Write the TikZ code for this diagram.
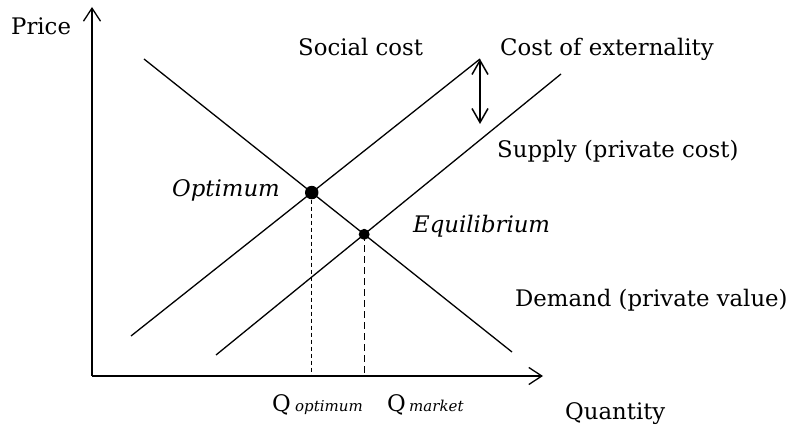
\documentclass[tikz,border=0pt]{standalone}
\usepackage{fontspec}
\setmainfont{DejaVu Serif}
\usetikzlibrary{arrows.meta,intersections}
\begin{document}
\begin{tikzpicture}[x=1pt,y=-1pt,
  ax/.style={line width=1.3pt,-{Straight Barb[length=13pt,width=17pt,line width=1.3pt]}},
  curve/.style={line width=1.3pt},
  dbl/.style={line width=1.5pt,{Straight Barb[length=14pt,width=16pt,line width=1.5pt]}-{Straight Barb[length=14pt,width=16pt,line width=1.5pt]}},
  lbl/.style={font=\fontsize{22.8}{26}\selectfont, anchor=base west, inner sep=0pt},
  ilbl/.style={font=\fontsize{22.8}{26}\selectfont\itshape, anchor=base west, inner sep=0pt},
  sublbl/.style={font=\fontsize{15}{18}\selectfont\itshape, anchor=base west, inner sep=0pt},
  dotnode/.style={circle, fill=black, inner sep=0pt, minimum size=#1},
  fine/.style={line width=0.9pt, dash pattern=on 4pt off 3pt},
  coarse/.style={line width=1.2pt, dash pattern=on 7pt off 4pt},
  ]
\useasboundingbox (0,0) rectangle (793,430);
% axes
\coordinate (O) at (92,376);
\coordinate (ytip) at (92,7);
\coordinate (xtip) at (543,376);
\draw[ax] (O) -- (ytip);
\draw[ax] (O) -- (xtip);
% lines
\coordinate (d1) at (144,59);
\coordinate (d2) at (512,352);
\coordinate (s1) at (131,336);
\coordinate (s2) at (480,59);
\coordinate (p1) at (216,355);
\coordinate (p2) at (561,74);
\draw[curve, name path=dem] (d1) -- (d2);
\draw[curve, name path=soc] (s1) -- (s2);
\draw[curve, name path=sup] (p1) -- (p2);
\path[name intersections={of=dem and soc, by=opt}];
\path[name intersections={of=dem and sup, by=eq}];
\coordinate (optq) at (opt |- O);
\coordinate (eqq) at (eq |- O);
\draw[fine] (opt) -- (optq);
\draw[coarse] (eq) -- (eqq);
\node[dotnode=13.5pt] (optdot) at (opt) {};
\node[dotnode=11pt] (eqdot) at (eq) {};
% externality arrow
\coordinate (a1) at (480,59);
\coordinate (a2) at (480,124);
\draw[dbl] (a1) -- (a2);
% labels
\node[lbl] (price) at (11,35) {Price};
\node[lbl] (social) at (298,56) {Social cost};
\node[lbl] (ext) at (500,56) {Cost of externality};
\node[lbl] (supply) at (497,158) {Supply (private cost)};
\node[ilbl] (optlbl) at (172,197) {Optimum};
\node[ilbl] (eqlbl) at (413,233) {Equilibrium};
\node[lbl] (demand) at (515,307) {Demand (private value)};
\node[lbl] (qo) at (272,412) {Q};
\node[sublbl] (qosub) at (295,412) {optimum};
\node[lbl] (qm) at (387,412) {Q};
\node[sublbl] (qmsub) at (409,412) {market};
\node[lbl] (qty) at (565,420) {Quantity};
\end{tikzpicture}
\end{document}
